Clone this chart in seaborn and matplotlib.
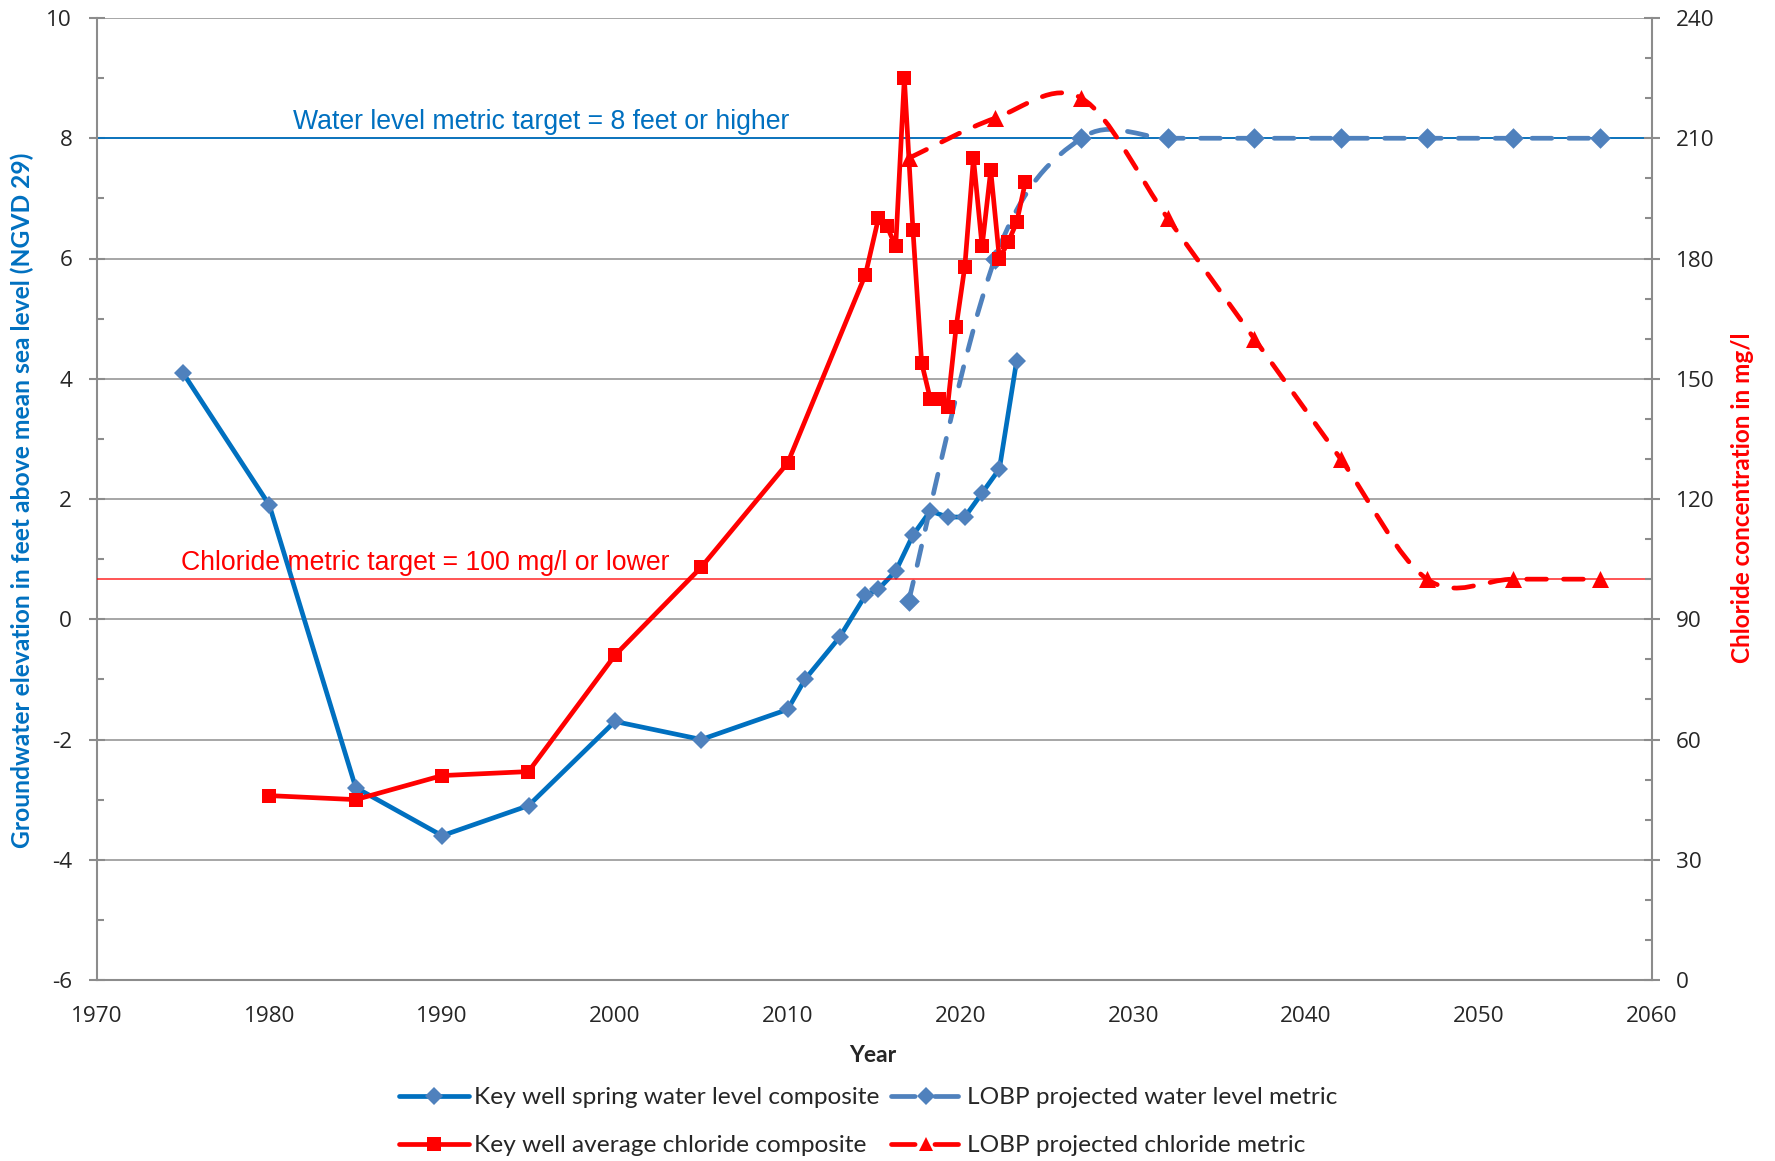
import numpy as np
import matplotlib
matplotlib.use("Agg")
import matplotlib.pyplot as plt
import seaborn as sns
from matplotlib.path import Path
from matplotlib.patches import PathPatch
from matplotlib.lines import Line2D
from matplotlib.ticker import MultipleLocator

# ---- data -------------------------------------------------------------
spring_years = [1975, 1980, 1985, 1990, 1995, 2000, 2005, 2010, 2011, 2013,
                2014.5, 2015.25, 2016.25, 2017.25, 2018.25, 2019.25, 2020.25,
                2021.25, 2022.25, 2023.25]
spring_level = [4.1, 1.9, -2.8, -3.6, -3.1, -1.7, -2.0, -1.5, -1.0, -0.3,
                0.4, 0.5, 0.8, 1.4, 1.8, 1.7, 1.7, 2.1, 2.5, 4.3]

chloride_years = [1980, 1985, 1990, 1995, 2000, 2005, 2010, 2014.5, 2015.25,
                  2015.75, 2016.25, 2016.75, 2017.25, 2017.75, 2018.25,
                  2018.75, 2019.25, 2019.75, 2020.25, 2020.75, 2021.25,
                  2021.75, 2022.25, 2022.75, 2023.25, 2023.75]
chloride_mgl = [46, 45, 51, 52, 81, 103, 129, 176, 190, 188, 183, 225, 187,
                154, 145, 145, 143, 163, 178, 205, 183, 202, 180, 184, 189, 199]

proj_years = [2017, 2022, 2027, 2032, 2037, 2042, 2047, 2052, 2057]
proj_level = [0.3, 6.0, 8.0, 8.0, 8.0, 8.0, 8.0, 8.0, 8.0]
proj_chloride = [205, 215, 220, 190, 160, 130, 100, 100, 100]

level_target = 8
chloride_target = 100

labels = ["Key well spring water level composite",
          "LOBP projected water level metric",
          "Key well average chloride composite",
          "LOBP projected chloride metric"]

# ---- style ------------------------------------------------------------
BLUE = "#0070C0"
BLUE_MK = "#4F81BD"
RED = "#FF0000"
GREY = "#8C8C8C"
GRID = "#A6A6A6"

sns.set_style("white")
plt.rcParams["font.family"] = ["Open Sans", "DejaVu Sans"]

LW = 3.4
DASH = (0, (4.2, 3.6))
LEG_DASH = (0, (5.0, 4.2))


def smooth_path(xs, ys):
    """Cubic Bezier path through the points (Catmull-Rom style tangents)."""
    pts = np.column_stack([xs, ys]).astype(float)
    n = len(pts)
    verts = [pts[0]]
    codes = [Path.MOVETO]
    for i in range(n - 1):
        p0 = pts[i - 1] if i > 0 else pts[i]
        p1 = pts[i]
        p2 = pts[i + 1]
        p3 = pts[i + 2] if i + 2 < n else pts[i + 1]
        verts += [p1 + (p2 - p0) / 6.0, p2 - (p3 - p1) / 6.0, p2]
        codes += [Path.CURVE4] * 3
    return Path(verts, codes)


fig = plt.figure(figsize=(17.75, 11.61), dpi=100)
L, R, T, B = 96.5, 1651.7, 18, 980
ax = fig.add_axes([L / 1775, 1 - B / 1161, (R - L) / 1775, (B - T) / 1161])
ax2 = ax.twinx()

ax.set_xlim(1970, 2060)
ax.set_ylim(-6, 10)
ax2.set_ylim(0, 240)

# grid and targets
ax.set_axisbelow(True)
ax.yaxis.grid(True, which="major", color=GRID, lw=1.4)
ax.axhline(level_target, color=BLUE, lw=1.3, zorder=1)
ax2.axhline(chloride_target, color=RED, lw=1.1, alpha=0.85, zorder=0.5)

ax.text(1981.4, 8.05, "Water level metric target = 8 feet or higher",
        color=BLUE, fontsize=19.2, family="Liberation Sans", va="bottom",
        zorder=1)
ax.text(1974.9, chloride_target / 15 - 6 + 0.06,
        "Chloride metric target = 100 mg/l or lower",
        color=RED, fontsize=19.2, family="Liberation Sans", va="bottom",
        zorder=1)

# measured water level
sns.lineplot(x=spring_years, y=spring_level, ax=ax, color=BLUE, lw=LW,
             marker="D", markersize=9, markerfacecolor=BLUE_MK,
             markeredgecolor=BLUE_MK, markeredgewidth=0, estimator=None,
             sort=False, zorder=3)

# projected water level
ax.add_patch(PathPatch(smooth_path(proj_years, proj_level), fill=False,
                       edgecolor=BLUE_MK, lw=LW, linestyle=DASH,
                       capstyle="round", zorder=4))
sns.scatterplot(x=proj_years, y=proj_level, ax=ax, color=BLUE_MK, marker="D",
                s=110, linewidth=0, zorder=5)

# measured chloride
sns.lineplot(x=chloride_years, y=chloride_mgl, ax=ax2, color=RED, lw=LW,
             marker="s", markersize=10, markerfacecolor=RED,
             markeredgecolor=RED, markeredgewidth=0, estimator=None,
             sort=False, zorder=3)

# projected chloride
ax2.add_patch(PathPatch(smooth_path(proj_years, proj_chloride), fill=False,
                        edgecolor=RED, lw=LW, linestyle=DASH,
                        capstyle="round", zorder=4))
sns.scatterplot(x=proj_years, y=proj_chloride, ax=ax2, color=RED, marker="^",
                s=150, linewidth=0, zorder=5)

# ---- axes ---------------------------------------------------------------
ax.xaxis.set_major_locator(MultipleLocator(10))
ax.xaxis.set_minor_locator(MultipleLocator(2))
ax.yaxis.set_major_locator(MultipleLocator(2))
ax.yaxis.set_minor_locator(MultipleLocator(1))
ax2.yaxis.set_major_locator(MultipleLocator(30))
ax2.yaxis.set_minor_locator(MultipleLocator(10))

for a in (ax, ax2):
    for s in a.spines.values():
        s.set_visible(False)
    a.set_xlabel("")
    a.set_ylabel("")
ax.spines["left"].set_visible(True)
ax.spines["bottom"].set_visible(True)
ax2.spines["right"].set_visible(True)
for s in (ax.spines["left"], ax.spines["bottom"], ax2.spines["right"]):
    s.set_color(GREY)
    s.set_linewidth(1.5)

TICK_FS = 16.2
ax.tick_params(axis="both", which="major", direction="inout", length=11,
               width=1.5, color=GREY, labelsize=TICK_FS, pad=9)
ax.tick_params(axis="both", which="minor", direction="in", length=5,
               width=1.5, color=GREY)
ax.tick_params(axis="y", which="major", pad=12)
ax.tick_params(axis="x", which="major", pad=13)
ax2.tick_params(axis="y", which="major", direction="inout", length=11,
                width=1.5, color=GREY, labelsize=TICK_FS, pad=12)
ax2.tick_params(axis="y", which="minor", direction="in", length=5,
                width=1.5, color=GREY)
ax.set_yticks(np.arange(-6, 11, 2))
ax.set_yticklabels([f"{v:g}" for v in np.arange(-6, 11, 2)])

# axis titles
fig.text(873 / 1775, 1 - 1055 / 1161, "Year", ha="center", va="center",
         fontsize=16.5, weight="bold", family="Lato")
fig.text(22.6 / 1775, 1 - 500 / 1161,
         "Groundwater elevation in feet above mean sea level (NGVD 29)",
         rotation=90, ha="center", va="center", fontsize=17.7, weight="bold",
         color=BLUE, family="Lato")
fig.text(1743 / 1775, 1 - 498 / 1161, "Chloride concentration in mg/l",
         rotation=90, ha="center", va="center", fontsize=17.5, weight="bold",
         color=RED, family="Lato")

# legend
handles = [
    Line2D([], [], color=BLUE, lw=LW, marker="D", markersize=9,
           markerfacecolor=BLUE_MK, markeredgewidth=0),
    Line2D([], [], color=RED, lw=LW, marker="s", markersize=10,
           markerfacecolor=RED, markeredgewidth=0),
    Line2D([], [], color=BLUE_MK, lw=LW, linestyle=LEG_DASH,
           dash_capstyle="round", marker="D", markersize=9,
           markerfacecolor=BLUE_MK, markeredgewidth=0),
    Line2D([], [], color=RED, lw=LW, linestyle=LEG_DASH,
           dash_capstyle="round", marker="^", markersize=10,
           markerfacecolor=RED, markeredgewidth=0),
]
leg_labels = [labels[0], labels[2], labels[1], labels[3]]
fig.legend(handles, leg_labels, loc="upper left",
           bbox_to_anchor=(398.5 / 1775, 1 - 1087 / 1161), ncol=2,
           frameon=False, borderpad=0, borderaxespad=0,
           prop={"family": "Lato", "size": 17.6}, handlelength=2.87,
           handletextpad=0.23, columnspacing=0.45, labelspacing=1.1)

fig.savefig("out.png", dpi=100)
